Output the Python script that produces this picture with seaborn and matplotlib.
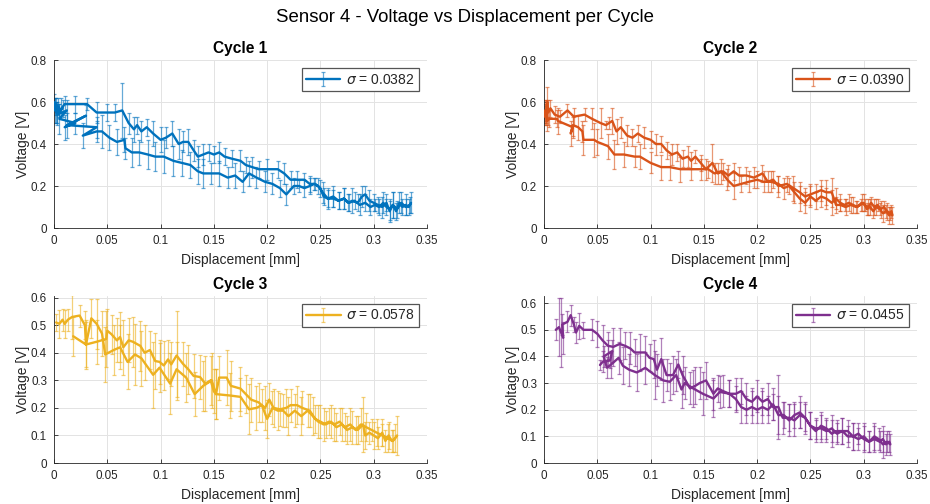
import numpy as np
import pandas as pd
import matplotlib
matplotlib.use("Agg")
import matplotlib.pyplot as plt
import seaborn as sns
from matplotlib.container import ErrorbarContainer

# ---------------- data ----------------
cycles = ["Cycle 1", "Cycle 2", "Cycle 3", "Cycle 4"]
sigmas = ["0.0382", "0.0390", "0.0578", "0.0455"]
colors = ["#0072BD", "#D95319", "#EDB120", "#7E2F8E"]
ylims = [0.8, 0.8, 0.606, 0.627]
xticks = [0, 0.05, 0.1, 0.15, 0.2, 0.25, 0.3, 0.35]
xtick_labels = ["0", "0.05", "0.1", "0.15", "0.2", "0.25", "0.3", "0.35"]
yticks_top = [0, 0.2, 0.4, 0.6, 0.8]
yticks_bot = [0, 0.1, 0.2, 0.3, 0.4, 0.5, 0.6]

c1_x = [0.000, 0.001, 0.002, 0.003, 0.004, 0.005, 0.007, 0.010, 0.020, 0.031,
        0.040, 0.050, 0.057, 0.064, 0.070, 0.075, 0.078, 0.082, 0.087, 0.093,
        0.100, 0.105, 0.111, 0.117, 0.121, 0.126, 0.131, 0.135, 0.140, 0.145,
        0.150, 0.155, 0.160, 0.167, 0.175, 0.180, 0.186, 0.192, 0.200, 0.210,
        0.216, 0.222, 0.228, 0.235, 0.240, 0.245, 0.250, 0.253, 0.257, 0.262,
        0.267, 0.272, 0.277, 0.282, 0.287, 0.292, 0.297, 0.301, 0.305, 0.309,
        0.312, 0.315, 0.318, 0.321, 0.324, 0.327, 0.330, 0.333, 0.335, 0.334,
        0.330, 0.326, 0.322, 0.318, 0.315, 0.312, 0.308, 0.304, 0.300, 0.296,
        0.292, 0.289, 0.285, 0.280, 0.276, 0.272, 0.267, 0.262, 0.257, 0.252,
        0.248, 0.244, 0.240, 0.235, 0.230, 0.225, 0.218, 0.212, 0.205, 0.198,
        0.190, 0.183, 0.177, 0.170, 0.163, 0.155, 0.147, 0.140, 0.135, 0.128,
        0.120, 0.112, 0.103, 0.095, 0.088, 0.080, 0.073, 0.067, 0.066, 0.059,
        0.052, 0.045, 0.040, 0.027, 0.040, 0.012, 0.030, 0.010, 0.020, 0.005,
        0.012, 0.003, 0.008, 0.002, 0.001]
c1_y = [0.60, 0.56, 0.59, 0.55, 0.58, 0.56, 0.57, 0.59, 0.59, 0.59,
        0.55, 0.55, 0.55, 0.56, 0.50, 0.47, 0.49, 0.46, 0.48, 0.45,
        0.42, 0.43, 0.45, 0.40, 0.41, 0.41, 0.37, 0.34, 0.35, 0.36,
        0.35, 0.36, 0.34, 0.33, 0.32, 0.30, 0.29, 0.28, 0.28, 0.28,
        0.26, 0.23, 0.23, 0.23, 0.21, 0.21, 0.19, 0.15, 0.14, 0.14,
        0.13, 0.14, 0.12, 0.13, 0.11, 0.12, 0.10, 0.11, 0.10, 0.12,
        0.10, 0.09, 0.11, 0.08, 0.12, 0.10, 0.11, 0.10, 0.12, 0.11,
        0.10, 0.12, 0.09, 0.11, 0.08, 0.12, 0.10, 0.11, 0.12, 0.13,
        0.16, 0.15, 0.12, 0.13, 0.12, 0.14, 0.13, 0.15, 0.14, 0.17,
        0.20, 0.21, 0.20, 0.19, 0.20, 0.20, 0.16, 0.19, 0.21, 0.22,
        0.24, 0.26, 0.22, 0.25, 0.24, 0.26, 0.26, 0.26, 0.27, 0.30,
        0.31, 0.32, 0.34, 0.34, 0.35, 0.36, 0.36, 0.38, 0.42, 0.41,
        0.43, 0.46, 0.46, 0.44, 0.48, 0.49, 0.535, 0.48, 0.50, 0.52,
        0.56, 0.54, 0.57, 0.55, 0.58]
c1_e = [0.04, 0.06, 0.03, 0.05, 0.04, 0.03, 0.05, 0.04, 0.04, 0.03,
        0.05, 0.04, 0.04, 0.13, 0.05, 0.06, 0.04, 0.05, 0.04, 0.06,
        0.06, 0.05, 0.06, 0.07, 0.05, 0.06, 0.05, 0.05, 0.05, 0.04,
        0.04, 0.05, 0.04, 0.04, 0.05, 0.04, 0.05, 0.04, 0.05, 0.04,
        0.05, 0.04, 0.04, 0.03, 0.04, 0.03, 0.04, 0.04, 0.05, 0.04,
        0.04, 0.05, 0.04, 0.04, 0.05, 0.04, 0.04, 0.03, 0.04, 0.05,
        0.04, 0.05, 0.06, 0.04, 0.05, 0.04, 0.05, 0.04, 0.05, 0.04,
        0.04, 0.05, 0.04, 0.06, 0.05, 0.04, 0.05, 0.04, 0.04, 0.05,
        0.04, 0.05, 0.04, 0.06, 0.04, 0.05, 0.04, 0.05, 0.04, 0.05,
        0.04, 0.03, 0.04, 0.04, 0.03, 0.04, 0.05, 0.04, 0.05, 0.05,
        0.05, 0.06, 0.05, 0.06, 0.05, 0.06, 0.05, 0.07, 0.06, 0.06,
        0.06, 0.07, 0.08, 0.07, 0.07, 0.06, 0.07, 0.05, 0.06, 0.06,
        0.06, 0.08, 0.05, 0.06, 0.05, 0.06, 0.05, 0.06, 0.05, 0.07,
        0.05, 0.05, 0.04, 0.05, 0.04]

c2_x = [0.000, 0.001, 0.002, 0.003, 0.004, 0.006, 0.010, 0.015, 0.022, 0.028,
        0.038, 0.045, 0.053, 0.058, 0.061, 0.064, 0.068, 0.072, 0.078, 0.083,
        0.088, 0.094, 0.100, 0.105, 0.110, 0.115, 0.120, 0.125, 0.130, 0.135,
        0.138, 0.142, 0.147, 0.152, 0.158, 0.163, 0.168, 0.173, 0.178, 0.183,
        0.190, 0.197, 0.205, 0.210, 0.215, 0.220, 0.228, 0.234, 0.240, 0.245,
        0.250, 0.255, 0.260, 0.265, 0.270, 0.274, 0.278, 0.283, 0.288, 0.293,
        0.297, 0.300, 0.303, 0.306, 0.309, 0.312, 0.315, 0.318, 0.321, 0.324,
        0.326, 0.327,
        0.325, 0.322, 0.319, 0.316, 0.313, 0.310, 0.307, 0.304, 0.301, 0.298,
        0.294, 0.290, 0.286, 0.282, 0.278, 0.274, 0.270, 0.265, 0.260, 0.255,
        0.250, 0.245, 0.240, 0.235, 0.230, 0.225, 0.220, 0.213, 0.206, 0.200,
        0.192, 0.185, 0.178, 0.172, 0.166, 0.160, 0.154, 0.147, 0.138, 0.128,
        0.118, 0.110, 0.100, 0.090, 0.085, 0.075, 0.066, 0.060, 0.050, 0.047,
        0.037, 0.036, 0.032, 0.027, 0.025, 0.027, 0.013, 0.012, 0.005, 0.003,
        0.002, 0.001]
c2_y = [0.53, 0.56, 0.54, 0.60, 0.55, 0.57, 0.54, 0.53, 0.56, 0.53,
        0.54, 0.52, 0.50, 0.49, 0.50, 0.51, 0.46, 0.48, 0.44, 0.43,
        0.45, 0.43, 0.42, 0.40, 0.40, 0.37, 0.35, 0.36, 0.33, 0.34,
        0.32, 0.34, 0.31, 0.28, 0.31, 0.26, 0.27, 0.25, 0.27, 0.25,
        0.25, 0.24, 0.26, 0.22, 0.23, 0.20, 0.21, 0.19, 0.17, 0.15,
        0.16, 0.17, 0.18, 0.17, 0.17, 0.11, 0.11, 0.10, 0.11, 0.10,
        0.11, 0.12, 0.09, 0.10, 0.08, 0.10, 0.09, 0.07, 0.08, 0.06,
        0.08, 0.06,
        0.07, 0.08, 0.10, 0.09, 0.11, 0.10, 0.12, 0.10, 0.11, 0.12,
        0.10, 0.11, 0.12, 0.11, 0.12, 0.14, 0.12, 0.14, 0.15, 0.13,
        0.15, 0.12, 0.14, 0.17, 0.20, 0.19, 0.21, 0.22, 0.22, 0.23,
        0.22, 0.21, 0.20, 0.23, 0.27, 0.26, 0.28, 0.28, 0.28, 0.28,
        0.29, 0.29, 0.31, 0.34, 0.34, 0.35, 0.35, 0.39, 0.41, 0.42,
        0.42, 0.46, 0.48, 0.49, 0.45, 0.48, 0.51, 0.52, 0.52, 0.51,
        0.55, 0.54]
c2_e = [0.03, 0.05, 0.04, 0.07, 0.06, 0.04, 0.04, 0.03, 0.03, 0.04,
        0.03, 0.05, 0.07, 0.02, 0.03, 0.06, 0.06, 0.05, 0.05, 0.04,
        0.04, 0.05, 0.04, 0.05, 0.04, 0.04, 0.05, 0.04, 0.04, 0.05,
        0.04, 0.03, 0.04, 0.05, 0.09, 0.05, 0.04, 0.05, 0.04, 0.04,
        0.04, 0.05, 0.04, 0.05, 0.04, 0.05, 0.04, 0.06, 0.05, 0.04,
        0.05, 0.04, 0.05, 0.06, 0.07, 0.04, 0.03, 0.04, 0.04, 0.03,
        0.03, 0.04, 0.03, 0.04, 0.03, 0.04, 0.03, 0.04, 0.03, 0.04,
        0.03, 0.04,
        0.03, 0.04, 0.03, 0.04, 0.03, 0.04, 0.03, 0.04, 0.03, 0.04,
        0.03, 0.04, 0.04, 0.03, 0.04, 0.05, 0.06, 0.05, 0.05, 0.04,
        0.05, 0.05, 0.06, 0.05, 0.04, 0.05, 0.04, 0.05, 0.05, 0.04,
        0.05, 0.04, 0.06, 0.05, 0.06, 0.05, 0.04, 0.05, 0.05, 0.06,
        0.06, 0.06, 0.05, 0.06, 0.05, 0.06, 0.07, 0.06, 0.06, 0.08,
        0.07, 0.05, 0.06, 0.05, 0.06, 0.05, 0.06, 0.04, 0.04, 0.05,
        0.06, 0.05]

c3_x = [0.002, 0.005, 0.008, 0.010, 0.013, 0.017, 0.024, 0.029, 0.030, 0.040,
        0.049, 0.050, 0.054, 0.059, 0.062, 0.065, 0.070, 0.074, 0.081, 0.085,
        0.090, 0.095, 0.099, 0.103, 0.107, 0.110, 0.115, 0.121, 0.126, 0.131,
        0.137, 0.142, 0.147, 0.150, 0.152, 0.155, 0.162, 0.166, 0.175, 0.180,
        0.185, 0.192, 0.198, 0.202, 0.206, 0.212, 0.218, 0.222, 0.228, 0.233,
        0.240, 0.245, 0.250, 0.255, 0.260, 0.265, 0.270, 0.275, 0.280, 0.285,
        0.290, 0.292, 0.296, 0.300, 0.304, 0.308, 0.311, 0.314, 0.317, 0.320,
        0.322,
        0.318, 0.313, 0.308, 0.303, 0.298, 0.293, 0.288, 0.283, 0.278, 0.273,
        0.268, 0.263, 0.258, 0.253, 0.248, 0.243, 0.238, 0.232, 0.226, 0.220,
        0.215, 0.210, 0.205, 0.200, 0.195, 0.190, 0.183, 0.175, 0.165, 0.152,
        0.148, 0.140, 0.132, 0.124, 0.115, 0.109, 0.099, 0.093, 0.082, 0.076,
        0.069, 0.062, 0.056, 0.048, 0.045, 0.040, 0.035, 0.030, 0.018]
c3_y = [0.51, 0.505, 0.52, 0.505, 0.52, 0.53, 0.535, 0.50, 0.43, 0.44,
        0.45, 0.48, 0.467, 0.445, 0.457, 0.42, 0.445, 0.44, 0.425, 0.40,
        0.41, 0.37, 0.367, 0.354, 0.376, 0.358, 0.39, 0.36, 0.34, 0.316,
        0.312, 0.288, 0.30, 0.26, 0.25, 0.31, 0.31, 0.28, 0.27, 0.25,
        0.23, 0.22, 0.20, 0.23, 0.20, 0.195, 0.20, 0.21, 0.21, 0.20,
        0.19, 0.16, 0.15, 0.14, 0.15, 0.13, 0.14, 0.12, 0.13, 0.12,
        0.14, 0.10, 0.11, 0.10, 0.09, 0.11, 0.08, 0.10, 0.08, 0.09,
        0.10,
        0.08, 0.09, 0.10, 0.11, 0.12, 0.13, 0.14, 0.12, 0.14, 0.13,
        0.15, 0.14, 0.15, 0.14, 0.15, 0.17, 0.19, 0.17, 0.19, 0.17,
        0.19, 0.19, 0.20, 0.16, 0.21, 0.20, 0.195, 0.24, 0.245, 0.25,
        0.30, 0.28, 0.25, 0.31, 0.34, 0.288, 0.346, 0.32, 0.38, 0.394,
        0.367, 0.42, 0.41, 0.394, 0.47, 0.505, 0.525, 0.43, 0.46]
c3_e = [0.03, 0.05, 0.04, 0.05, 0.04, 0.08, 0.04, 0.05, 0.09, 0.08,
        0.10, 0.08, 0.07, 0.08, 0.09, 0.10, 0.08, 0.09, 0.09, 0.10,
        0.07, 0.10, 0.08, 0.09, 0.07, 0.08, 0.16, 0.08, 0.09, 0.08,
        0.08, 0.10, 0.09, 0.08, 0.09, 0.08, 0.10, 0.09, 0.08, 0.07,
        0.08, 0.07, 0.08, 0.06, 0.07, 0.06, 0.07, 0.06, 0.07, 0.06,
        0.06, 0.05, 0.06, 0.05, 0.06, 0.05, 0.06, 0.05, 0.06, 0.05,
        0.10, 0.05, 0.04, 0.05, 0.04, 0.05, 0.04, 0.05, 0.04, 0.05,
        0.07,
        0.04, 0.05, 0.04, 0.05, 0.04, 0.05, 0.06, 0.05, 0.06, 0.05,
        0.05, 0.06, 0.05, 0.06, 0.06, 0.07, 0.06, 0.07, 0.06, 0.07,
        0.06, 0.07, 0.06, 0.07, 0.06, 0.08, 0.09, 0.07, 0.08, 0.09,
        0.10, 0.09, 0.08, 0.09, 0.10, 0.11, 0.09, 0.12, 0.10, 0.11,
        0.10, 0.08, 0.09, 0.10, 0.08, 0.09, 0.07, 0.08, 0.07]

c4_x = [0.011, 0.014, 0.016, 0.018, 0.017, 0.022, 0.025, 0.028, 0.030, 0.033,
        0.037, 0.045, 0.050, 0.055, 0.060, 0.065, 0.071, 0.076, 0.081, 0.085,
        0.090, 0.095, 0.099, 0.103, 0.106, 0.110, 0.115, 0.121, 0.126, 0.130,
        0.137, 0.142, 0.146, 0.152, 0.159, 0.163, 0.168, 0.174, 0.180, 0.185,
        0.190, 0.195, 0.200, 0.205, 0.210, 0.215, 0.220, 0.224, 0.230, 0.235,
        0.240, 0.245, 0.250, 0.255, 0.260, 0.265, 0.270, 0.275, 0.280, 0.285,
        0.290, 0.295, 0.300, 0.305, 0.310, 0.315, 0.318, 0.321, 0.324, 0.325,
        0.322, 0.318, 0.314, 0.310, 0.305, 0.300, 0.295, 0.290, 0.285, 0.280,
        0.275, 0.270, 0.265, 0.260, 0.255, 0.250, 0.245, 0.240, 0.235, 0.230,
        0.225, 0.220, 0.215, 0.210, 0.205, 0.200, 0.195, 0.190, 0.185, 0.180,
        0.174, 0.165, 0.159, 0.149, 0.140, 0.132, 0.129, 0.124, 0.118, 0.112,
        0.104, 0.095, 0.087, 0.080, 0.074, 0.070, 0.063, 0.059, 0.056, 0.060,
        0.064, 0.062, 0.055, 0.0525]
c4_y = [0.50, 0.51, 0.49, 0.47, 0.52, 0.53, 0.555, 0.52, 0.49, 0.515,
        0.50, 0.50, 0.485, 0.46, 0.44, 0.436, 0.447, 0.44, 0.43, 0.415,
        0.415, 0.415, 0.395, 0.39, 0.35, 0.39, 0.33, 0.33, 0.37, 0.33,
        0.28, 0.29, 0.30, 0.31, 0.26, 0.28, 0.27, 0.26, 0.26, 0.27,
        0.24, 0.23, 0.25, 0.23, 0.24, 0.21, 0.21, 0.17, 0.17, 0.16,
        0.18, 0.17, 0.14, 0.12, 0.14, 0.13, 0.11, 0.12, 0.12, 0.10,
        0.10, 0.09, 0.10, 0.08, 0.09, 0.08, 0.09, 0.07, 0.08, 0.07,
        0.08, 0.07, 0.09, 0.10, 0.08, 0.09, 0.11, 0.10, 0.12, 0.12,
        0.11, 0.13, 0.12, 0.13, 0.13, 0.14, 0.17, 0.19, 0.18, 0.16,
        0.18, 0.18, 0.22, 0.20, 0.21, 0.20, 0.21, 0.20, 0.21, 0.24,
        0.26, 0.267, 0.242, 0.26, 0.28, 0.30, 0.276, 0.33, 0.305, 0.31,
        0.33, 0.357, 0.34, 0.35, 0.365, 0.395, 0.37, 0.358, 0.40, 0.41,
        0.42, 0.385, 0.38, 0.368]
c4_e = [0.04, 0.11, 0.13, 0.06, 0.04, 0.04, 0.04, 0.03, 0.04, 0.05,
        0.03, 0.04, 0.05, 0.06, 0.05, 0.07, 0.06, 0.05, 0.06, 0.05,
        0.07, 0.06, 0.05, 0.07, 0.06, 0.08, 0.06, 0.07, 0.05, 0.07,
        0.06, 0.07, 0.06, 0.07, 0.06, 0.05, 0.06, 0.05, 0.06, 0.05,
        0.06, 0.05, 0.06, 0.05, 0.06, 0.05, 0.12, 0.06, 0.05, 0.06,
        0.05, 0.06, 0.05, 0.04, 0.05, 0.04, 0.05, 0.04, 0.05, 0.04,
        0.05, 0.04, 0.05, 0.04, 0.05, 0.04, 0.05, 0.04, 0.04, 0.04,
        0.04, 0.05, 0.04, 0.05, 0.04, 0.05, 0.04, 0.05, 0.04, 0.05,
        0.04, 0.05, 0.04, 0.05, 0.04, 0.05, 0.05, 0.06, 0.05, 0.06,
        0.05, 0.07, 0.06, 0.05, 0.06, 0.05, 0.06, 0.05, 0.06, 0.05,
        0.05, 0.06, 0.07, 0.08, 0.07, 0.06, 0.07, 0.06, 0.07, 0.08,
        0.09, 0.06, 0.07, 0.06, 0.07, 0.06, 0.05, 0.04, 0.04, 0.05,
        0.04, 0.03, 0.04, 0.02]

series = [(c1_x, c1_y, c1_e), (c2_x, c2_y, c2_e),
          (c3_x, c3_y, c3_e), (c4_x, c4_y, c4_e)]

# ---------------- style ----------------
sns.set_theme(style="whitegrid")
plt.rcParams["font.family"] = ["Liberation Sans", "DejaVu Sans"]
plt.rcParams["mathtext.fontset"] = "dejavusans"
axis_col = "#262626"

fig = plt.figure(figsize=(9.3, 5.04), dpi=100)
positions = [
    (0.0581, 0.5476, 0.4010, 0.3333),
    (0.5850, 0.5476, 0.4010, 0.3333),
    (0.0581, 0.0813, 0.4010, 0.3314),
    (0.5850, 0.0813, 0.4010, 0.3314),
]

for i, (name, sig, col, ytop, (xs, ys, es), pos) in enumerate(
        zip(cycles, sigmas, colors, ylims, series, positions)):
    n = min(len(xs), len(ys), len(es))
    df = pd.DataFrame({"x": xs[:n], "y": ys[:n], "e": es[:n], "order": range(n)})
    ax = fig.add_axes(pos)
    eb = ax.errorbar(df["x"], df["y"], yerr=df["e"], fmt="none",
                     ecolor=col, elinewidth=0.9, capsize=1.4, capthick=0.9,
                     alpha=0.6, zorder=2)
    sns.lineplot(data=df, x="x", y="y", sort=False, estimator=None,
                 color=col, linewidth=1.7, ax=ax, zorder=3)
    line = ax.lines[-1]
    handle = ErrorbarContainer((line, eb[1], eb[2]), has_xerr=False,
                               has_yerr=True, label=rf"$\sigma$ = {sig}")
    ax.set_xlim(0, 0.35)
    ax.set_ylim(0, ytop)
    ax.set_xticks(xticks)
    ax.set_xticklabels(xtick_labels)
    yt = yticks_top if i < 2 else yticks_bot
    ax.set_yticks(yt)
    ax.set_yticklabels([("0" if v == 0 else f"{v:g}") for v in yt])
    ax.set_title(name, fontsize=11.2, fontweight="bold", color="black", pad=5)
    ax.set_xlabel("Displacement [mm]", fontsize=10, color=axis_col, labelpad=4)
    ax.set_ylabel("Voltage [V]", fontsize=10, color=axis_col, labelpad=1)
    ax.grid(True, color="#e3e3e3", linewidth=0.7)
    ax.set_axisbelow(True)
    for s in ["top", "right"]:
        ax.spines[s].set_visible(False)
    for s in ["left", "bottom"]:
        ax.spines[s].set_visible(True)
        ax.spines[s].set_color(axis_col)
        ax.spines[s].set_linewidth(0.6)
    ax.tick_params(axis="both", direction="in", length=3, width=0.6,
                   colors=axis_col, labelsize=8.4, pad=5,
                   bottom=True, left=True)
    ax.set_facecolor("white")
    leg = ax.legend(handles=[handle], loc="upper right", fontsize=10,
                    frameon=True, fancybox=False, handlelength=2.5,
                    borderpad=0.3, borderaxespad=0.6, handletextpad=0.4)
    leg.get_frame().set_edgecolor("#555555")
    leg.get_frame().set_linewidth(0.9)
    leg.get_frame().set_facecolor("white")
    leg.get_frame().set_alpha(1)

fig.suptitle("Sensor 4 - Voltage vs Displacement per Cycle", fontsize=13.4,
             color="black", y=0.982)
fig.savefig("out.png", dpi=100, facecolor="white")
